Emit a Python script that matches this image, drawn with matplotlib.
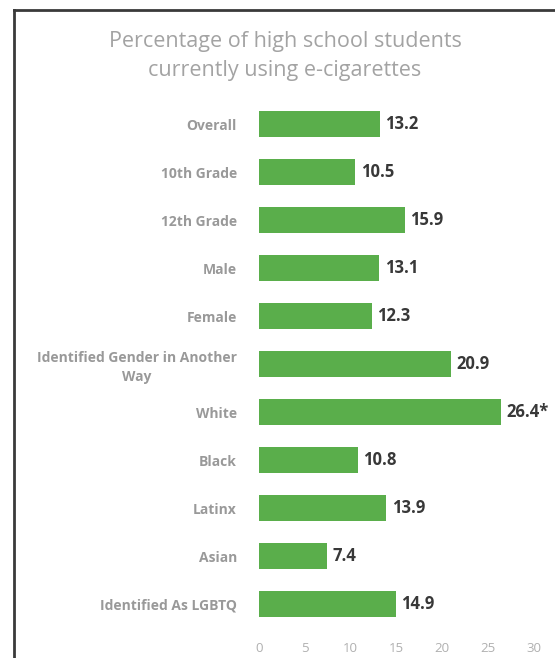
import matplotlib
matplotlib.use("Agg")
import matplotlib.pyplot as plt
from matplotlib.lines import Line2D

categories = ["Overall", "10th Grade", "12th Grade", "Male", "Female",
              "Identified Gender in Another\nWay", "White", "Black", "Latinx",
              "Asian", "Identified As LGBTQ"]
values = [13.2, 10.5, 15.9, 13.1, 12.3, 20.9, 26.4, 10.8, 13.9, 7.4, 14.9]
value_labels = ["13.2", "10.5", "15.9", "13.1", "12.3", "20.9", "26.4*", "10.8",
                "13.9", "7.4", "14.9"]
xticks = [0, 5, 10, 15, 20, 25, 30]
title = "Percentage of high school students\ncurrently using e-cigarettes"

plt.rcParams['font.family'] = ['Open Sans', 'DejaVu Sans']

fig = plt.figure(figsize=(5.55, 6.58), dpi=100)
ax = fig.add_axes([259/555, 1 - 628/658, 275/555, 528/658])

ypos = list(range(len(categories)))
ax.barh(ypos, values, height=0.55, color="#5aae4b")
ax.set_ylim(len(categories) - 0.5, -0.5)
ax.set_xlim(0, 30)
ax.set_yticks(ypos)
ax.set_yticklabels(categories, fontsize=10, fontweight='bold', color="#999999",
                   linespacing=1.4)
for t in ax.get_yticklabels():
    t.set_multialignment('center')
ax.tick_params(axis='y', length=0, pad=16)
ax.set_xticks(xticks)
ax.set_xticklabels([str(t) for t in xticks], fontsize=9.5, color="#b0b0b0")
ax.tick_params(axis='x', length=0, pad=10)
for s in ax.spines.values():
    s.set_visible(False)

for y, v, lab in zip(ypos, values, value_labels):
    ax.text(v + 0.6, y, lab, va='center', ha='left', fontsize=12,
            fontweight='bold', color="#383838")

fig.text(285/555, 1 - 56/658, title, ha='center', va='center', fontsize=15.5,
         color="#a3a3a3", linespacing=1.55)

fig.add_artist(Line2D([14/555, 1], [1 - 10/658, 1 - 10/658], transform=fig.transFigure,
                      color="#3a3a3a", lw=2))
fig.add_artist(Line2D([14/555, 14/555], [0, 1 - 10/658], transform=fig.transFigure,
                      color="#3a3a3a", lw=2))

fig.savefig("out.png", dpi=100)
